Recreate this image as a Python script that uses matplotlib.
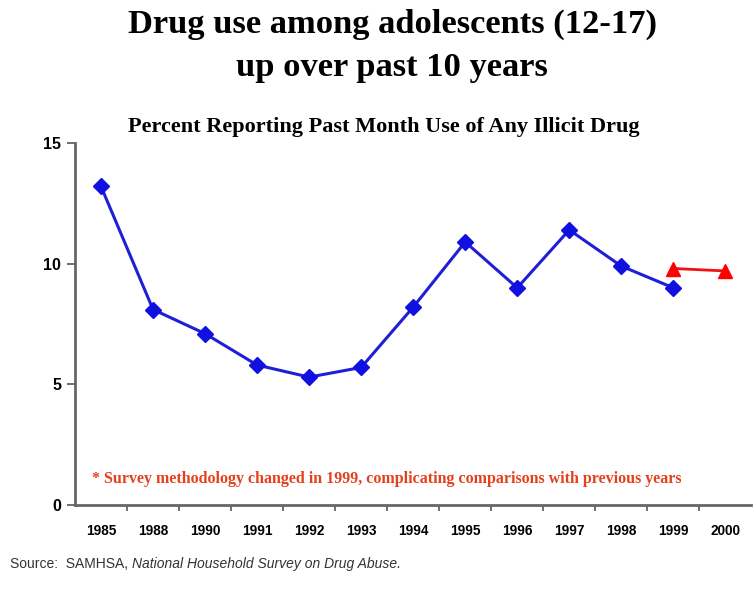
import numpy as np
import matplotlib.pyplot as plt

years = ["1985", "1988", "1990", "1991", "1992", "1993", "1994",
         "1995", "1996", "1997", "1998", "1999", "2000"]
old_method = [13.2, 8.1, 7.1, 5.8, 5.3, 5.7, 8.2, 10.9, 9.0, 11.4, 9.9, 9.0]
new_years = ["1999", "2000"]
new_method = [9.8, 9.7]
y_ticks = [0, 5, 10, 15]

serif = "Liberation Serif"
sans = "Liberation Sans"

fig = plt.figure(figsize=(7.54, 5.91), dpi=100)
ax = fig.add_axes([0.0995, 0.1455, 0.897, 0.6125])

x_old = np.arange(len(old_method))
x_new = np.array([years.index(y) for y in new_years])

ax.plot(x_old, old_method, color="#1f1fd6", lw=2.2, marker="D", ms=8,
        markerfacecolor="#1010e0", markeredgecolor="#1010e0", zorder=3)
ax.plot(x_new, new_method, color="#f01010", lw=2.0, marker="^", ms=10,
        markerfacecolor="#ff0000", markeredgecolor="#ff0000", zorder=3)

ax.set_xlim(-0.5, len(years) - 0.5)
ax.set_ylim(0, 15)
ax.set_yticks(y_ticks)
ax.set_yticklabels([str(v) for v in y_ticks], fontfamily=sans,
                   fontweight="bold", fontsize=11.5)
ax.set_xticks(np.arange(len(years)))
ax.set_xticklabels(years, fontfamily=sans, fontweight="bold", fontsize=9.8)
ax.set_xticks(np.arange(len(years) - 1) + 0.5, minor=True)
ax.tick_params(axis="x", which="major", length=0, pad=14)
ax.tick_params(axis="x", which="minor", length=4, width=1.2,
               direction="out", color="#555555")
ax.tick_params(axis="y", length=6, width=1.2, direction="out",
               color="#555555", pad=4)

for side in ("top", "right"):
    ax.spines[side].set_visible(False)
for side in ("left", "bottom"):
    ax.spines[side].set_color("#666666")
    ax.spines[side].set_linewidth(2)

ax.text(0.025, 0.062, "* Survey methodology changed in 1999, complicating "
        "comparisons with previous years", transform=ax.transAxes,
        fontfamily=serif, fontweight="bold", fontsize=11.55, color="#e5401c")

fig.text(0.52, 0.958, "Drug use among adolescents (12-17)", ha="center",
         va="center", fontfamily=serif, fontweight="bold", fontsize=24.8)
fig.text(0.52, 0.886, "up over past 10 years", ha="center", va="center",
         fontfamily=serif, fontweight="bold", fontsize=24.8)
fig.text(0.509, 0.785, "Percent Reporting Past Month Use of Any Illicit Drug",
         ha="center", va="center", fontfamily=serif, fontweight="bold",
         fontsize=16)

src = fig.text(0.013, 0.045, "Source:  SAMHSA, ", ha="left", va="center",
               fontfamily=sans, fontsize=10, color="#333333")
fig.canvas.draw()
bb = src.get_window_extent()
fig.text(bb.x1 / fig.bbox.width, 0.045,
         "National Household Survey on Drug Abuse.", ha="left", va="center",
         fontfamily=sans, fontstyle="italic", fontsize=10, color="#333333")

fig.savefig("out.png", dpi=100)
